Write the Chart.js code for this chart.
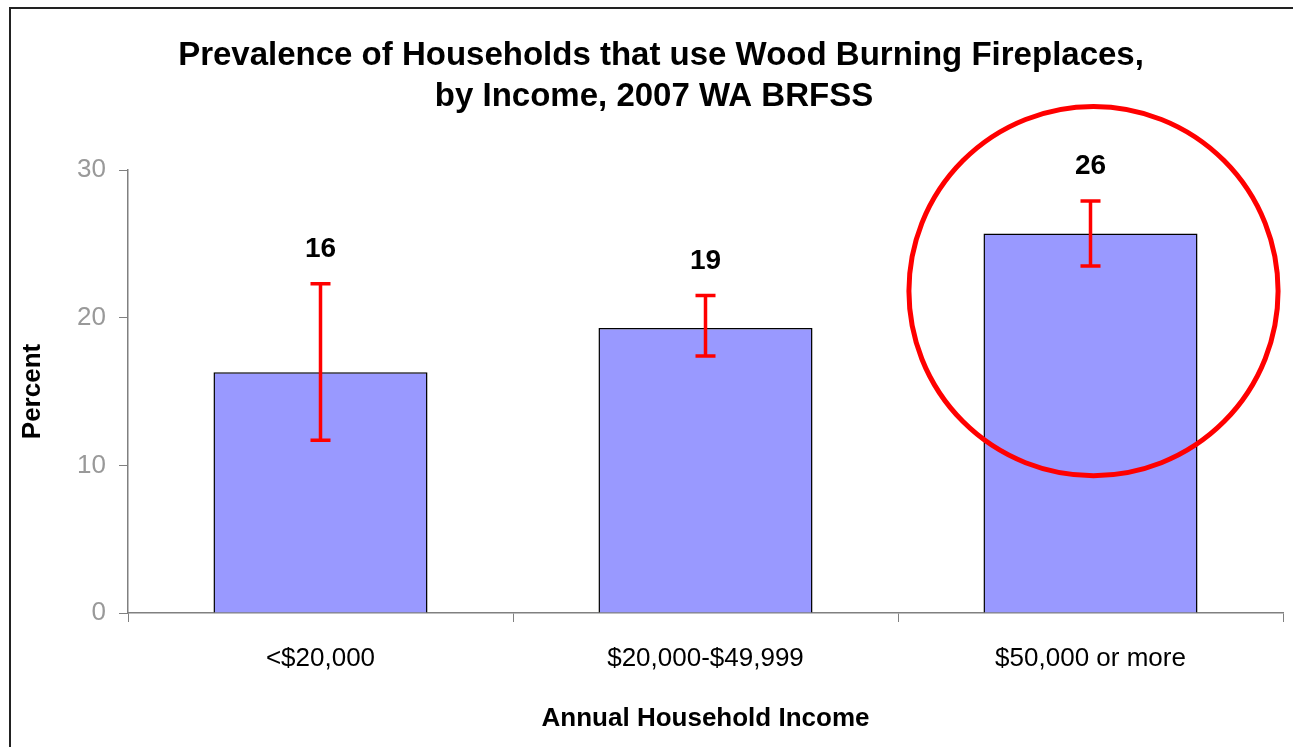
<!DOCTYPE html>
<html>
<head>
<meta charset="utf-8">
<script src="https://cdn.jsdelivr.net/npm/chart.js@4.4.0/dist/chart.umd.min.js"></script>
<style>
html, body { margin: 0; padding: 0; background: #fff; }
</style>
</head>
<body>
<canvas id="fireplaceChart" width="1293" height="747"></canvas>
<script>
// Data
var incomeGroups = ["<$20,000", "$20,000-$49,999", "$50,000 or more"];
var percentValues = [16.3, 19.3, 25.7];
var lowerCI = [11.7, 17.4, 23.5];
var upperCI = [22.3, 21.5, 27.9];
var valueLabels = ["16", "19", "26"];
var titleLines = ["Prevalence of Households that use Wood Burning Fireplaces,", "by Income, 2007 WA BRFSS"];

var FONT = "'Liberation Sans', Arial, sans-serif";

// extra drawing: page frame, title, error bars, value labels, highlight circle
var annotatePlugin = {
    id: 'annotate',
    beforeDraw: function(chart) {
        var ctx = chart.ctx;
        ctx.save();
        ctx.strokeStyle = '#222';
        ctx.lineWidth = 2;
        ctx.beginPath();
        ctx.moveTo(10, 747);
        ctx.lineTo(10, 8);
        ctx.lineTo(1293, 8);
        ctx.stroke();

        ctx.fillStyle = '#000';
        ctx.font = 'bold 33px ' + FONT;
        ctx.textAlign = 'center';
        ctx.textBaseline = 'alphabetic';
        ctx.fillText(titleLines[0], 661, 65);
        ctx.fillText(titleLines[1], 654, 106);
        ctx.restore();
    },
    afterDatasetsDraw: function(chart) {
        var ctx = chart.ctx;
        var xs = chart.scales.x, ys = chart.scales.y;
        ctx.save();
        ctx.strokeStyle = '#ff0000';
        ctx.lineWidth = 3.5;
        for (var i = 0; i < upperCI.length; i++) {
            var cx = xs.getPixelForValue(i);
            var yHi = ys.getPixelForValue(upperCI[i]);
            var yLo = ys.getPixelForValue(lowerCI[i]);
            ctx.beginPath();
            ctx.moveTo(cx, yHi); ctx.lineTo(cx, yLo);
            ctx.moveTo(cx - 10, yHi); ctx.lineTo(cx + 10, yHi);
            ctx.moveTo(cx - 10, yLo); ctx.lineTo(cx + 10, yLo);
            ctx.stroke();

            ctx.fillStyle = '#000';
            ctx.font = 'bold 28px ' + FONT;
            ctx.textAlign = 'center';
            ctx.textBaseline = 'alphabetic';
            ctx.fillText(valueLabels[i], cx, yHi - 27);
        }

        // red circle around the highest-income bar
        var hx = xs.getPixelForValue(2) + 3;
        var hy = ys.getPixelForValue(21.8);
        var r = ys.getPixelForValue(0) - ys.getPixelForValue(12.5);
        ctx.lineWidth = 5;
        ctx.beginPath();
        ctx.arc(hx, hy, r, 0, Math.PI * 2);
        ctx.stroke();
        ctx.restore();
    }
};

var ctx = document.getElementById('fireplaceChart').getContext('2d');
new Chart(ctx, {
    type: 'bar',
    data: {
        labels: incomeGroups,
        datasets: [{
            label: 'Percent',
            data: percentValues,
            backgroundColor: '#9999ff',
            borderColor: '#000',
            borderWidth: 1.5,
            barPercentage: 0.556,
            categoryPercentage: 1
        }]
    },
    options: {
        responsive: false,
        animation: false,
        layout: { padding: { top: 170, right: 10, left: 0, bottom: 0 } },
        plugins: {
            legend: { display: false },
            tooltip: { enabled: false }
        },
        scales: {
            y: {
                min: 0,
                max: 30,
                afterFit: function(s) { s.width = 128; },
                ticks: { stepSize: 10, color: '#999', font: { family: FONT, size: 26 }, padding: 13 },
                grid: { drawOnChartArea: false, drawTicks: true, tickLength: 9, color: '#808080' },
                border: { color: '#808080', width: 1.5 },
                title: {
                    display: true,
                    text: 'Percent',
                    color: '#000',
                    font: { family: FONT, size: 26, weight: 'bold' },
                    padding: { top: 17, bottom: 0 }
                }
            },
            x: {
                afterFit: function(s) { s.height = 134; },
                ticks: { color: '#000', font: { family: FONT, size: 26 }, padding: 21, maxRotation: 0 },
                grid: { offset: true, drawOnChartArea: false, drawTicks: true, tickLength: 9, color: '#808080' },
                border: { color: '#808080', width: 1.5 },
                title: {
                    display: true,
                    text: 'Annual Household Income',
                    color: '#000',
                    font: { family: FONT, size: 26, weight: 'bold' },
                    padding: { top: 0, bottom: 13 }
                }
            }
        }
    },
    plugins: [annotatePlugin]
});
</script>
</body>
</html>
